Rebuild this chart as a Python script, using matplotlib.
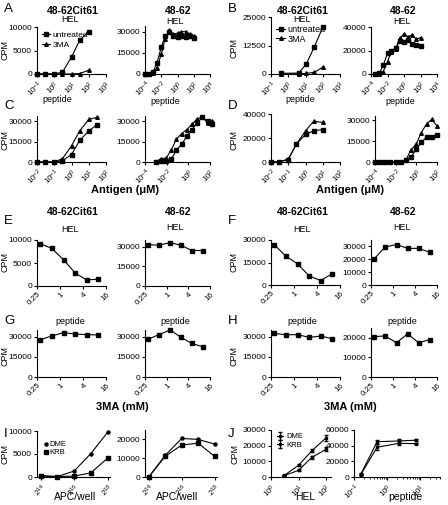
import numpy as np
import matplotlib
matplotlib.use('Agg')
import matplotlib.pyplot as plt
from matplotlib.ticker import NullLocator, LogLocator, NullFormatter

plt.rcParams['font.family'] = ['Liberation Sans', 'DejaVu Sans']
plt.rcParams['mathtext.fontset'] = 'custom'
plt.rcParams['mathtext.rm'] = 'Liberation Sans'
plt.rcParams['mathtext.it'] = 'Liberation Sans:italic'
plt.rcParams['mathtext.bf'] = 'Liberation Sans:bold'
plt.rcParams['mathtext.default'] = 'regular'

# ---------------- data ----------------
A_cit_x = [0.1, 0.3, 1, 3, 10, 30, 100]
A_cit_untr = [0, 0, 0, 400, 3600, 7200, 9000]
A_cit_3ma = [0, 0, 0, 0, 0, 100, 800]
A_wt_x = [1e-4, 3e-4, 1e-3, 3e-3, 1e-2, 3e-2, 0.1, 0.3, 1, 3, 10, 30, 100]
A_wt_untr = [0, 300, 1500, 8000, 19000, 27000, 29500, 27000, 26000, 27000, 26500, 27000, 25500]
A_wt_3ma = [0, 0, 600, 4500, 14000, 25000, 31500, 28000, 29000, 30000, 30000, 28500, 27000]

B_cit_x = [0.4, 4, 11, 33, 100]
B_cit_untr = [300, 400, 4300, 12000, 20500]
B_cit_3ma = [0, 0, 300, 700, 3000]
B_wt_x = [3e-4, 1e-3, 3e-3, 1e-2, 3e-2, 0.1, 0.3, 1, 3, 10, 30, 100]
B_wt_untr = [0, 500, 7500, 17500, 20000, 22000, 28500, 27500, 29000, 25500, 25000, 24000]
B_wt_3ma = [0, 0, 2000, 10500, 19000, 21500, 30500, 34000, 31500, 33500, 29500, 31000]

C_cit_x = [0.01, 0.03, 0.1, 0.3, 1, 3, 10, 30]
C_cit_untr = [0, 0, 0, 1000, 5500, 16000, 23000, 27500]
C_cit_3ma = [0, 0, 0, 2500, 12000, 23000, 31500, 33000]
C_wt_x = [0.001, 0.003, 0.009, 0.027, 0.08, 0.24, 0.73, 2.2, 6.6, 20, 59, 150]
C_wt_untr = [0, 700, 1000, 2000, 9000, 13000, 19000, 24000, 29000, 33000, 30000, 28000]
C_wt_3ma = [0, 2500, 3000, 9000, 17000, 21000, 24000, 28000, 32000, 33000, 29000, 30000]

D_cit_x = [0.01, 0.03, 0.1, 0.3, 1, 3, 10]
D_cit_untr = [0, 0, 2000, 15000, 23000, 26000, 27000]
D_cit_3ma = [0, 0, 2500, 15000, 26000, 34000, 33000]
D_wt_x = [1e-4, 3e-4, 1e-3, 3e-3, 1e-2, 3e-2, 0.1, 0.3, 1, 3, 10, 30, 100]
D_wt_untr = [0, 0, 0, 0, 0, 0, 1700, 3700, 9000, 14000, 18000, 18000, 19500]
D_wt_3ma = [0, 0, 0, 0, 0, 0, 1500, 8700, 13000, 21000, 27500, 30500, 26000]

MA_x = [0.3, 0.6, 1.25, 2.5, 5, 10]
E_cit = [9200, 8200, 5700, 2800, 1300, 1500]
E_wt = [31500, 31000, 33000, 31000, 27000, 27000]
F_cit = [27000, 19500, 14000, 6000, 3000, 7500]
F_wt = [20000, 29500, 31500, 28500, 28500, 25500]
G_cit = [27700, 30500, 33000, 32000, 31500, 31300]
G_wt = [28000, 31500, 35000, 29500, 25000, 22500]
H_cit = [32500, 31500, 31500, 29500, 30500, 28500]
H_wt = [20500, 21000, 17500, 22000, 17500, 19000]

I_x = [16384, 32768, 65536, 131072, 262144]
I_hel_dme = [300, 100, 1300, 5100, 9700]
I_hel_krb = [200, 100, 200, 900, 4100]
I_pep_dme = [0, 11500, 20500, 20000, 17500]
I_pep_krb = [0, 11000, 17000, 18000, 11000]

J_hel_x = [3, 10, 30, 100]
J_hel_dme = [1000, 7500, 16700, 25000]
J_hel_dme_err = [300, 600, 1000, 1800]
J_hel_krb = [800, 4300, 12500, 17700]
J_hel_krb_err = [200, 500, 1000, 1300]
J_pep_x = [0.16, 0.5, 2.3, 7.5]
J_pep_dme = [3500, 45000, 46000, 47000]
J_pep_dme_err = [1500, 2500, 3000, 1500]
J_pep_krb = [3000, 38000, 43000, 42500]
J_pep_krb_err = [1000, 3500, 2500, 1000]

# ---------------- layout helpers ----------------
W, H = 448, 505
fig = plt.figure(figsize=(W / 100, H / 100), dpi=100)
LW = 0.8


def add_ax(x0, x1, ytop, ybot, ymax, yticks):
    ax = fig.add_axes([x0 / W, 1 - ybot / H, (x1 - x0) / W, (ybot - ytop) / H])
    ax.set_ylim(0, ymax)
    ax.set_yticks(yticks)
    ax.set_yticklabels([str(t) for t in yticks])
    for s in ['top', 'right']:
        ax.spines[s].set_visible(False)
    for s in ['left', 'bottom']:
        ax.spines[s].set_linewidth(LW)
    ax.tick_params(length=2.5, width=LW, labelsize=6, pad=1)
    ax.tick_params(axis='x', labelsize=5.8)
    ax.patch.set_alpha(0)
    return ax


def log10_x(ax, lo, hi, ticks):
    ax.set_xscale('log')
    ax.set_xlim(lo, hi)
    ax.set_xticks(ticks)
    ax.set_xticklabels(['$10^{%d}$' % int(round(np.log10(t))) for t in ticks],
                       rotation=45, ha='right', rotation_mode='anchor')
    ax.xaxis.set_minor_locator(NullLocator())


def log2_x(ax, lo, hi, ticks, labels):
    ax.set_xscale('log', base=2)
    ax.set_xlim(lo, hi)
    ax.set_xticks(ticks)
    ax.set_xticklabels(labels, rotation=45, ha='right', rotation_mode='anchor')
    ax.xaxis.set_minor_locator(NullLocator())


def line(ax, x, y, marker, ms=2.6, label=None):
    ax.plot(x, y, '-', color='k', lw=LW, marker=marker, ms=ms, mfc='k', mec='k',
            clip_on=False, label=label, zorder=3)


def txt(x, y, s, size=7, weight='normal', ha='center', rot=0):
    fig.text(x / W, 1 - y / H, s, fontsize=size, fontweight=weight, ha=ha,
             va='center', rotation=rot)


# column x extents
LX = (37, 106)
RX = (145, 210)
LX2 = (271, 340)
RX2 = (371, 437)

# ---------------- Row A/B ----------------
ax = add_ax(*LX, 27, 74, 10000, [0, 5000, 10000])
log10_x(ax, 0.1, 1000, [0.1, 1, 10, 100, 1000])
line(ax, A_cit_x, A_cit_untr, 's', label='untreated')
line(ax, A_cit_x, A_cit_3ma, '^', label='3MA')
ax.legend(loc='upper left', bbox_to_anchor=(0.02, 0.98), frameon=False, fontsize=6,
          handlelength=1.0, handletextpad=0.3, borderaxespad=0, labelspacing=0.2)

ax = add_ax(*RX, 26, 74, 34000, [0, 15000, 30000])
log10_x(ax, 1e-4, 1e4, [1e-4, 1e-2, 1, 1e2, 1e4])
line(ax, A_wt_x, A_wt_untr, 's')
line(ax, A_wt_x, A_wt_3ma, '^')

ax = add_ax(*LX2, 17, 74, 25000, [0, 12500, 25000])
log10_x(ax, 0.1, 1000, [0.1, 1, 10, 100, 1000])
line(ax, B_cit_x, B_cit_untr, 's', label='untreated')
line(ax, B_cit_x, B_cit_3ma, '^', label='3MA')
ax.legend(loc='upper left', bbox_to_anchor=(0.02, 0.92), frameon=False, fontsize=6.5,
          handlelength=1.0, handletextpad=0.3, borderaxespad=0, labelspacing=0.05)

ax = add_ax(*RX2, 27, 74, 40000, [0, 20000, 40000])
log10_x(ax, 1e-4, 1e4, [1e-4, 1e-2, 1, 1e2, 1e4])
line(ax, B_wt_x, B_wt_untr, 's')
line(ax, B_wt_x, B_wt_3ma, '^')

# ---------------- Row C/D ----------------
ax = add_ax(*LX, 116, 162, 34000, [0, 15000, 30000])
log10_x(ax, 0.01, 100, [0.01, 0.1, 1, 10, 100])
line(ax, C_cit_x, C_cit_untr, 's')
line(ax, C_cit_x, C_cit_3ma, '^')

ax = add_ax(*RX, 116, 162, 34000, [0, 15000, 30000])
log10_x(ax, 1e-4, 100, [1e-4, 1e-2, 1, 100])
line(ax, C_wt_x, C_wt_untr, 's')
line(ax, C_wt_x, C_wt_3ma, '^')

ax = add_ax(*LX2, 114, 162, 40000, [0, 20000, 40000])
log10_x(ax, 0.01, 100, [0.01, 0.1, 1, 10, 100])
line(ax, D_cit_x, D_cit_untr, 's')
line(ax, D_cit_x, D_cit_3ma, '^')

ax = add_ax(375, 437, 116, 162, 33000, [0, 15000, 30000])
log10_x(ax, 1e-4, 100, [1e-4, 1e-2, 1, 100])
line(ax, D_wt_x, D_wt_untr, 's')
line(ax, D_wt_x, D_wt_3ma, '^')

# ---------------- Row E/F ----------------
MA_ticks = [0.25, 1, 4, 16]
MA_labels = ['0.25', '1', '4', '16']

ax = add_ax(*LX, 240, 286, 10000, [0, 5000, 10000])
log2_x(ax, 0.25, 16, MA_ticks, MA_labels)
line(ax, MA_x, E_cit, 's')

ax = add_ax(*RX, 240, 286, 35000, [0, 15000, 30000])
log2_x(ax, 0.25, 16, MA_ticks, MA_labels)
line(ax, MA_x, E_wt, 's')

ax = add_ax(*LX2, 240, 285, 30000, [0, 15000, 30000])
log2_x(ax, 0.25, 16, MA_ticks, MA_labels)
line(ax, MA_x, F_cit, 's')

ax = add_ax(*RX2, 240, 285, 35000, [0, 10000, 20000, 30000])
log2_x(ax, 0.25, 16, MA_ticks, MA_labels)
line(ax, MA_x, F_wt, 's')

# ---------------- Row G/H ----------------
ax = add_ax(*LX, 330, 377, 35000, [0, 15000, 30000])
log2_x(ax, 0.25, 16, MA_ticks, MA_labels)
line(ax, MA_x, G_cit, 's')

ax = add_ax(*RX, 330, 377, 35000, [0, 15000, 30000])
log2_x(ax, 0.25, 16, MA_ticks, MA_labels)
line(ax, MA_x, G_wt, 's')

ax = add_ax(*LX2, 330, 377, 35000, [0, 15000, 30000])
log2_x(ax, 0.25, 16, MA_ticks, MA_labels)
line(ax, MA_x, H_cit, 's')

ax = add_ax(*RX2, 328, 377, 25000, [0, 10000, 20000])
log2_x(ax, 0.25, 16, MA_ticks, MA_labels)
line(ax, MA_x, H_wt, 's')

# ---------------- Row I/J ----------------
I_ticks = [16384, 65536, 262144]
I_labels = ['$2^{14}$', '$2^{16}$', '$2^{18}$']

ax = add_ax(37, 110, 431, 477, 10000, [0, 5000, 10000])
log2_x(ax, 14000, 290000, I_ticks, I_labels)
line(ax, I_x, I_hel_dme, 'o', ms=2.2, label='DME')
line(ax, I_x, I_hel_krb, 's', ms=2.2, label='KRB')
leg = ax.legend(loc='upper left', bbox_to_anchor=(0.08, 0.85), frameon=False, fontsize=5.5,
                handlelength=0, handletextpad=0.5, borderaxespad=0, labelspacing=0.1)
for h in leg.legend_handles:
    h.set_linestyle('none')

ax = add_ax(145, 217, 430, 477, 25000, [0, 10000, 20000])
log2_x(ax, 14000, 290000, I_ticks, I_labels)
line(ax, I_x, I_pep_dme, 'o', ms=2.2)
line(ax, I_x, I_pep_krb, 's', ms=2.2)

ax = add_ax(271, 331, 430, 477, 30000, [0, 10000, 20000, 30000])
log10_x(ax, 1, 150, [1, 10, 100])
ax.errorbar(J_hel_x, J_hel_dme, yerr=J_hel_dme_err, color='k', lw=LW, marker='s', ms=2,
            capsize=1.5, elinewidth=LW, clip_on=False, label='DME')
ax.errorbar(J_hel_x, J_hel_krb, yerr=J_hel_krb_err, color='k', lw=LW, marker='s', ms=2,
            capsize=1.5, elinewidth=LW, clip_on=False, label='KRB')
ax.legend(loc='upper left', bbox_to_anchor=(0.05, 1.0), frameon=False, fontsize=5.5,
          handlelength=0.8, handletextpad=0.4, borderaxespad=0, labelspacing=0.1)

ax = add_ax(354, 440, 430, 477, 60000, [0, 20000, 40000, 60000])
log10_x(ax, 0.1, 40, [0.1, 1, 10])
ax.xaxis.set_minor_locator(LogLocator(base=10, subs=np.arange(2, 10)))
ax.xaxis.set_minor_formatter(NullFormatter())
ax.tick_params(which='minor', length=1.5, width=0.6)
ax.errorbar(J_pep_x, J_pep_dme, yerr=J_pep_dme_err, color='k', lw=LW, marker='s', ms=2,
            capsize=1.5, elinewidth=LW, clip_on=False)
ax.errorbar(J_pep_x, J_pep_krb, yerr=J_pep_krb_err, color='k', lw=LW, marker='s', ms=2,
            capsize=1.5, elinewidth=LW, clip_on=False)

# ---------------- text ----------------
for (x, y, s) in [(4, 9, 'A'), (228, 9, 'B'), (4, 106, 'C'), (228, 106, 'D'),
                  (4, 221, 'E'), (228, 221, 'F'), (4, 321, 'G'), (228, 321, 'H'),
                  (4, 434, 'I'), (228, 434, 'J')]:
    fig.text(x / W, 1 - y / H, s, fontsize=9.5, ha='left', va='center')

for y in (11, 212):
    txt(73, y, '48-62Cit61', 7.5, 'bold')
    txt(178, y, '48-62', 7.5, 'bold')
    txt(303, y, '48-62Cit61', 7.5, 'bold')
    txt(403, y, '48-62', 7.5, 'bold')

for (x, y) in [(70, 20), (175, 22), (302, 20), (402, 22),
               (70, 230), (175, 228), (302, 230), (402, 228)]:
    txt(x, y, 'HEL', 6.5)
for (x, y) in [(57, 99), (165, 101), (300, 99), (400, 101),
               (70, 322), (175, 322), (302, 322), (402, 322)]:
    txt(x, y, 'peptide', 6.5)

txt(125, 190, 'Antigen (\u03bcM)', 8, 'bold')
txt(350, 190, 'Antigen (\u03bcM)', 8, 'bold')
txt(122, 407, '3MA (mM)', 8, 'bold')
txt(350, 407, '3MA (mM)', 8, 'bold')
txt(75, 497, 'APC/well', 7.5)
txt(177, 497, 'APC/well', 7.5)
txt(305, 497, 'HEL', 7.5)
txt(405, 497, 'peptide', 7.5)

for (x, y) in [(5, 50), (5, 140), (5, 262), (5, 356), (5, 454),
               (234, 48), (234, 140), (234, 262), (234, 356), (235, 454)]:
    txt(x, y, 'CPM', 6.5, rot=90)

fig.savefig('out.png', dpi=100)
